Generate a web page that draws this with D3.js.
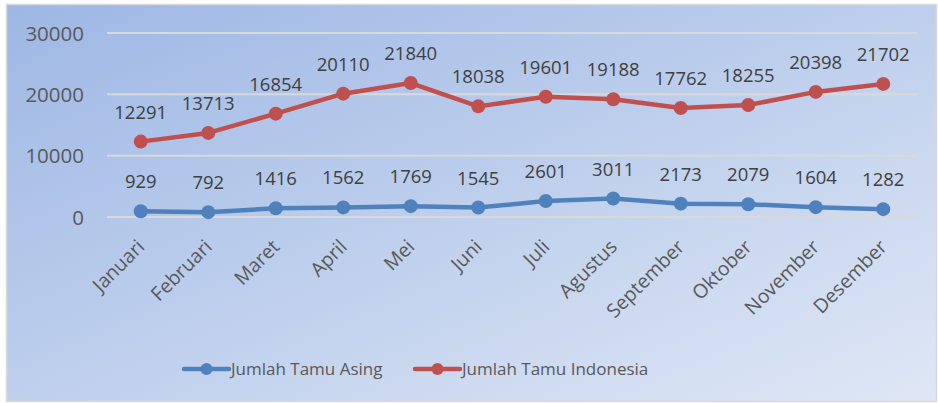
<!DOCTYPE html>
<html><head><meta charset="utf-8">
<script src="https://cdn.jsdelivr.net/npm/d3@7"></script>
<style>body{margin:0;background:#fff}svg{display:block}</style>
</head><body>
<svg id="c" width="938" height="403"></svg>
<script>
const months = ["Januari","Februari","Maret","April","Mei","Juni","Juli","Agustus","September","Oktober","November","Desember"];
const asing = [929,792,1416,1562,1769,1545,2601,3011,2173,2079,1604,1282];
const indonesia = [12291,13713,16854,20110,21840,18038,19601,19188,17762,18255,20398,21702];
const yTicks = [0,10000,20000,30000];
const seriesNames = ["Jumlah Tamu Asing","Jumlah Tamu Indonesia"];
const colors = ["#4f81bd","#c0504d"];

const svg = d3.select("#c");
const W = 938, H = 403;
const defs = svg.append("defs");
const grad = defs.append("linearGradient").attr("id","bg").attr("x1","0").attr("y1","0").attr("x2","1").attr("y2","1");
grad.append("stop").attr("offset","0").attr("stop-color","#9db7e4");
grad.append("stop").attr("offset","1").attr("stop-color","#dfe7f5");
svg.append("rect").attr("x",6.5).attr("y",4.5).attr("width",W-8).attr("height",H-6)
  .attr("fill","url(#bg)").attr("stroke","#d9d9d9").attr("stroke-width",1.5);

const font = "'Open Sans', 'Noto Sans', sans-serif";
const x = d3.scaleBand().domain(months).range([107,917]);
const y = d3.scaleLinear().domain([0,30000]).range([217,33]);
const cx = d => x(d) + x.bandwidth()/2;

// grid
svg.append("g").selectAll("line").data(yTicks).join("line")
  .attr("x1",107).attr("x2",917).attr("y1",d=>y(d)).attr("y2",d=>y(d))
  .attr("stroke","#d9d9d9").attr("stroke-width",2);

// y axis
const yAxis = svg.append("g").attr("transform","translate(84,0)")
  .call(d3.axisLeft(y).tickValues(yTicks).tickSize(0).tickPadding(0).tickFormat(d3.format("d")));
yAxis.select(".domain").remove();
yAxis.selectAll("text").attr("font-family",font).attr("font-size",20.5).attr("fill","#595959").attr("dy","0.35em");

// x axis
const xAxis = svg.append("g").attr("transform","translate(0,217)")
  .call(d3.axisBottom(x).tickSize(0).tickPadding(0));
xAxis.select(".domain").remove();
xAxis.selectAll("text").attr("font-family",font).attr("font-size",19.5).attr("fill","#595959")
  .attr("text-anchor","end").attr("dy",0).attr("y",0)
  .attr("transform","translate(5,31) rotate(-45)");

const series = [asing, indonesia];
series.forEach((vals,i)=>{
  const line = d3.line().x((d,j)=>cx(months[j])).y(d=>y(d));
  svg.append("path").datum(vals).attr("d",line).attr("fill","none")
    .attr("stroke",colors[i]).attr("stroke-width",4.5).attr("stroke-linejoin","round");
  svg.append("g").selectAll("circle").data(vals).join("circle")
    .attr("cx",(d,j)=>cx(months[j])).attr("cy",d=>y(d)).attr("r",7).attr("fill",colors[i]);
  svg.append("g").selectAll("text").data(vals).join("text")
    .attr("x",(d,j)=>cx(months[j])).attr("y",d=>y(d)-23)
    .attr("text-anchor","middle").attr("font-family",font).attr("font-size",18.5).attr("fill","#404040")
    .text(d=>d);
});

// legend
const lg = svg.append("g");
const legX = [184,415];
seriesNames.forEach((n,i)=>{
  const g = lg.append("g").attr("transform",`translate(${legX[i]},369)`);
  g.append("line").attr("x1",0).attr("x2",45).attr("stroke",colors[i]).attr("stroke-width",4.5).attr("stroke-linecap","round");
  g.append("circle").attr("cx",22.5).attr("r",6).attr("fill",colors[i]);
  g.append("text").attr("x",47).attr("dy","0.35em").attr("font-family",font).attr("font-size",17).attr("fill","#595959").text(n);
});
</script>
</body></html>
